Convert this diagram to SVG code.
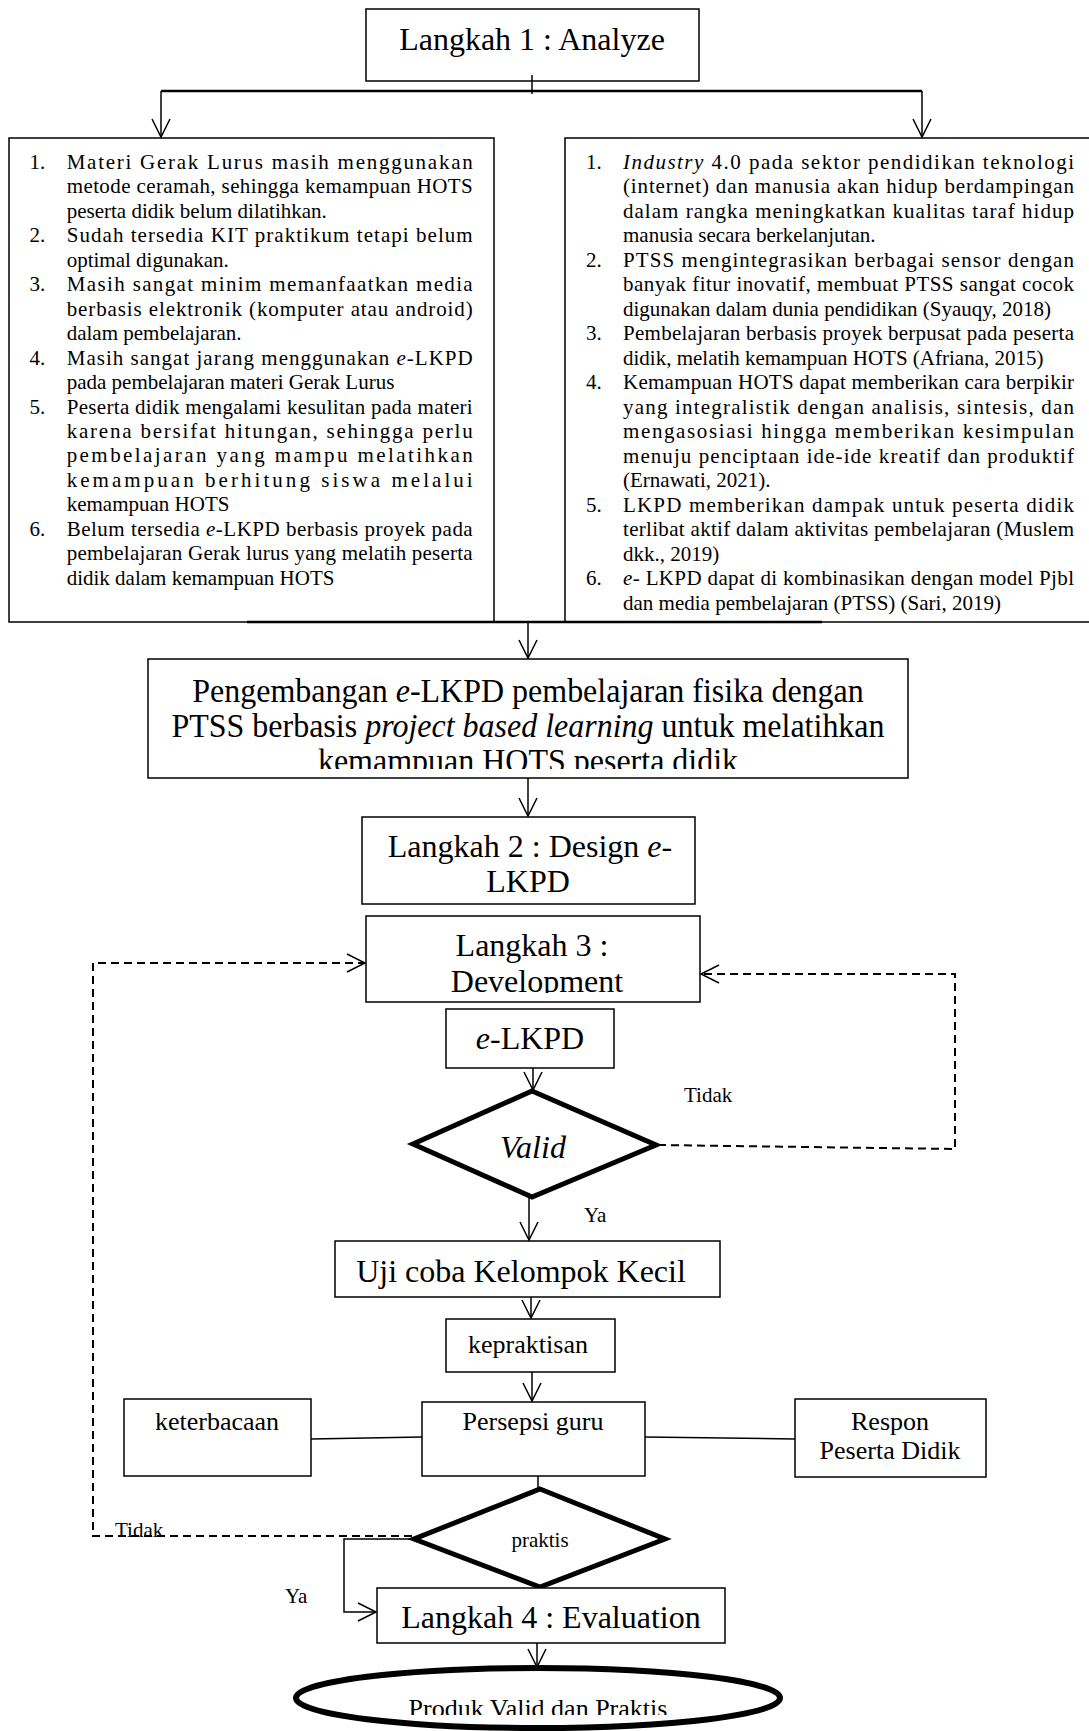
<svg xmlns="http://www.w3.org/2000/svg" width="1089" height="1731" viewBox="0 0 1089 1731">
<style>
.box{fill:#fff;stroke:#000;stroke-width:1.5}
.t{font-family:"Liberation Serif","Times New Roman",serif;fill:#000}
.b{font-size:32px}
.m{font-size:26px}
.s{font-size:21px}
.c{text-anchor:middle}
.ln{fill:none;stroke:#000;stroke-width:1.5}
.dash{stroke-dasharray:8 5;stroke-width:2}
.thick{fill:#fff;stroke:#000;stroke-width:5}
</style>
<defs>
<marker id="arr" markerUnits="userSpaceOnUse" markerWidth="22" markerHeight="22" viewBox="-20 -11 22 22" refX="0" refY="0" orient="auto">
<path d="M-18,-9 L0,0 L-18,9" fill="none" stroke="#000" stroke-width="1.5" stroke-dasharray="none"/>
</marker>
<clipPath id="clipR"><rect x="560" y="130" width="540" height="490"/></clipPath>
<clipPath id="clipP"><rect x="140" y="650" width="780" height="119"/></clipPath>
<clipPath id="clipD"><rect x="360" y="910" width="350" height="83"/></clipPath>
<clipPath id="clipE"><rect x="280" y="1660" width="520" height="55"/></clipPath>
</defs>

<g id="n-analyze">
<rect class="box" x="366" y="9" width="333" height="72"/>
<text class="t b c" x="532" y="50">Langkah 1 : Analyze</text>
</g>

<g id="n-left-list">
<rect class="box" x="9" y="138" width="485" height="484"/>
<g class="t s">
<text x="29.5" y="169">1.</text>
<text x="66.7" y="169" textLength="406" lengthAdjust="spacing">Materi Gerak Lurus masih menggunakan</text>
<text x="66.7" y="193.45" textLength="406" lengthAdjust="spacing">metode ceramah, sehingga kemampuan HOTS</text>
<text x="66.7" y="217.9">peserta didik belum dilatihkan.</text>
<text x="29.5" y="242.35">2.</text>
<text x="66.7" y="242.35" textLength="406" lengthAdjust="spacing">Sudah tersedia KIT praktikum tetapi belum</text>
<text x="66.7" y="266.8">optimal digunakan.</text>
<text x="29.5" y="291.25">3.</text>
<text x="66.7" y="291.25" textLength="406" lengthAdjust="spacing">Masih sangat minim memanfaatkan media</text>
<text x="66.7" y="315.7" textLength="406" lengthAdjust="spacing">berbasis elektronik (komputer atau android)</text>
<text x="66.7" y="340.15">dalam pembelajaran.</text>
<text x="29.5" y="364.6">4.</text>
<text x="66.7" y="364.6" textLength="406" lengthAdjust="spacing">Masih sangat jarang menggunakan <tspan font-style="italic">e</tspan>-LKPD</text>
<text x="66.7" y="389.05">pada pembelajaran materi Gerak Lurus</text>
<text x="29.5" y="413.5">5.</text>
<text x="66.7" y="413.5" textLength="406" lengthAdjust="spacing">Peserta didik mengalami kesulitan pada materi</text>
<text x="66.7" y="437.95" textLength="406" lengthAdjust="spacing">karena bersifat hitungan, sehingga perlu</text>
<text x="66.7" y="462.4" textLength="406" lengthAdjust="spacing">pembelajaran yang mampu melatihkan</text>
<text x="66.7" y="486.85" textLength="406" lengthAdjust="spacing">kemampuan berhitung siswa melalui</text>
<text x="66.7" y="511.3">kemampuan HOTS</text>
<text x="29.5" y="535.75">6.</text>
<text x="66.7" y="535.75" textLength="406" lengthAdjust="spacing">Belum tersedia <tspan font-style="italic">e</tspan>-LKPD berbasis proyek pada</text>
<text x="66.7" y="560.2" textLength="406" lengthAdjust="spacing">pembelajaran Gerak lurus yang melatih peserta</text>
<text x="66.7" y="584.65">didik dalam kemampuan HOTS</text>
</g>
</g>

<g id="n-right-list">
<rect class="box" x="565" y="138" width="535" height="484"/>
<g class="t s" clip-path="url(#clipR)">
<text x="586" y="168.5">1.</text>
<text x="623" y="168.5" textLength="451" lengthAdjust="spacing"><tspan font-style="italic">Industry</tspan> 4.0 pada sektor pendidikan teknologi</text>
<text x="623" y="193" textLength="451" lengthAdjust="spacing">(internet) dan manusia akan hidup berdampingan</text>
<text x="623" y="217.5" textLength="451" lengthAdjust="spacing">dalam rangka meningkatkan kualitas taraf hidup</text>
<text x="623" y="242">manusia secara berkelanjutan.</text>
<text x="586" y="266.5">2.</text>
<text x="623" y="266.5" textLength="451" lengthAdjust="spacing">PTSS mengintegrasikan berbagai sensor dengan</text>
<text x="623" y="291" textLength="451" lengthAdjust="spacing">banyak fitur inovatif, membuat PTSS sangat cocok</text>
<text x="623" y="315.5">digunakan dalam dunia pendidikan (Syauqy, 2018)</text>
<text x="586" y="340">3.</text>
<text x="623" y="340" textLength="451" lengthAdjust="spacing">Pembelajaran berbasis proyek berpusat pada peserta</text>
<text x="623" y="364.5">didik, melatih kemampuan HOTS (Afriana, 2015)</text>
<text x="586" y="389">4.</text>
<text x="623" y="389" textLength="451" lengthAdjust="spacing">Kemampuan HOTS dapat memberikan cara berpikir</text>
<text x="623" y="413.5" textLength="451" lengthAdjust="spacing">yang integralistik dengan analisis, sintesis, dan</text>
<text x="623" y="438" textLength="451" lengthAdjust="spacing">mengasosiasi hingga memberikan kesimpulan</text>
<text x="623" y="462.5" textLength="451" lengthAdjust="spacing">menuju penciptaan ide-ide kreatif dan produktif</text>
<text x="623" y="487">(Ernawati, 2021).</text>
<text x="586" y="511.5">5.</text>
<text x="623" y="511.5" textLength="451" lengthAdjust="spacing">LKPD memberikan dampak untuk peserta didik</text>
<text x="623" y="536" textLength="451" lengthAdjust="spacing">terlibat aktif dalam aktivitas pembelajaran (Muslem</text>
<text x="623" y="560.5">dkk., 2019)</text>
<text x="586" y="585">6.</text>
<text x="623" y="585" textLength="451" lengthAdjust="spacing"><tspan font-style="italic">e</tspan>- LKPD dapat di kombinasikan dengan model Pjbl</text>
<text x="623" y="609.5">dan media pembelajaran (PTSS) (Sari, 2019)</text>
</g>
</g>

<g id="n-pengembangan">
<rect class="box" x="148" y="659" width="760" height="119"/>
<g class="t b c" clip-path="url(#clipP)">
<text transform="translate(528,702) scale(1,1.05)">Pengembangan <tspan font-style="italic">e</tspan>-LKPD pembelajaran fisika dengan</text>
<text transform="translate(528,737) scale(1,1.05)">PTSS berbasis <tspan font-style="italic">project based learning</tspan> untuk melatihkan</text>
<text transform="translate(528,772) scale(1,1.05)">kemampuan HOTS peserta didik</text>
</g>
</g>

<g id="n-design">
<rect class="box" x="362" y="817" width="333" height="87"/>
<text class="t b c" x="530" y="857">Langkah 2 : Design <tspan font-style="italic">e</tspan>-</text>
<text class="t b c" x="528" y="892">LKPD</text>
</g>

<g id="n-development">
<rect class="box" x="366" y="916" width="334" height="86"/>
<g class="t b c" clip-path="url(#clipD)">
<text x="532" y="956">Langkah 3 :</text>
<text x="537" y="992">Development</text>
</g>
</g>

<g id="n-elkpd">
<rect class="box" x="446" y="1009" width="168" height="59"/>
<text class="t b c" x="530" y="1049"><tspan font-style="italic">e</tspan>-LKPD</text>
</g>

<g id="n-valid">
<polygon class="thick" points="532,1091 656,1145 532,1197 413,1144"/>
<text class="t b c" x="533" y="1158" font-style="italic">Valid</text>
</g>

<g id="n-uji">
<rect class="box" x="335" y="1241" width="385" height="56"/>
<text class="t b c" x="521" y="1282">Uji coba Kelompok Kecil</text>
</g>

<g id="n-kepraktisan">
<rect class="box" x="446" y="1319" width="169" height="53"/>
<text class="t m c" x="528" y="1353">kepraktisan</text>
</g>

<g id="n-keterbacaan">
<rect class="box" x="124" y="1399" width="187" height="77"/>
<text class="t m c" x="217" y="1430">keterbacaan</text>
</g>

<g id="n-persepsi">
<rect class="box" x="422" y="1402" width="223" height="74"/>
<text class="t m c" x="533" y="1430">Persepsi guru</text>
</g>

<g id="n-respon">
<rect class="box" x="795" y="1399" width="191" height="78"/>
<text class="t m c" x="890" y="1430">Respon</text>
<text class="t m c" x="890" y="1459">Peserta Didik</text>
</g>

<g id="n-praktis">
<polygon class="thick" points="540,1489 665,1539 540,1587 414,1539"/>
<text class="t s c" x="540" y="1547">praktis</text>
</g>

<g id="n-evaluation">
<rect class="box" x="377" y="1588" width="348" height="55"/>
<text class="t b c" x="551" y="1628">Langkah 4 : Evaluation</text>
</g>

<g id="n-produk">
<ellipse cx="538" cy="1698" rx="242" ry="30" fill="#fff" stroke="#000" stroke-width="6"/>
<g clip-path="url(#clipE)">
<text class="t m c" x="538" y="1717">Produk Valid dan Praktis</text>
</g>
</g>

<g id="connectors">
<path class="ln" d="M532,75 V94"/>
<path class="ln" style="stroke-width:2.5" d="M161,91 H922"/>
<path class="ln" d="M161,91 V137" marker-end="url(#arr)"/>
<path class="ln" d="M922,91 V137" marker-end="url(#arr)"/>
<path class="ln" style="stroke-width:2.5" d="M247,622 H822"/>
<path class="ln" d="M528,622 V658" marker-end="url(#arr)"/>
<path class="ln" d="M528,778 V816" marker-end="url(#arr)"/>
<path class="ln" d="M533,1068 V1090" marker-end="url(#arr)"/>
<path class="ln" d="M529,1198 V1240" marker-end="url(#arr)"/>
<path class="ln" d="M531,1297 V1318" marker-end="url(#arr)"/>
<path class="ln" d="M532,1372 V1401" marker-end="url(#arr)"/>
<path class="ln" d="M311,1439 L422,1437"/>
<path class="ln" d="M645,1437 L795,1439"/>
<path class="ln" d="M538,1476 V1489"/>
<path class="ln" d="M414,1539 H344 V1612 H376" marker-end="url(#arr)"/>
<path class="ln" d="M537,1643 V1667" marker-end="url(#arr)"/>
<path class="ln dash" d="M412,1536 H93 V963 H365" marker-end="url(#arr)"/>
<path class="ln dash" d="M658,1145 L955,1149 V974 H701" marker-end="url(#arr)"/>
<text class="t s" x="684" y="1102">Tidak</text>
<text class="t s" x="584" y="1222">Ya</text>
<text class="t s" x="115" y="1537">Tidak</text>
<text class="t s" x="285" y="1603">Ya</text>
</g>
</svg>
